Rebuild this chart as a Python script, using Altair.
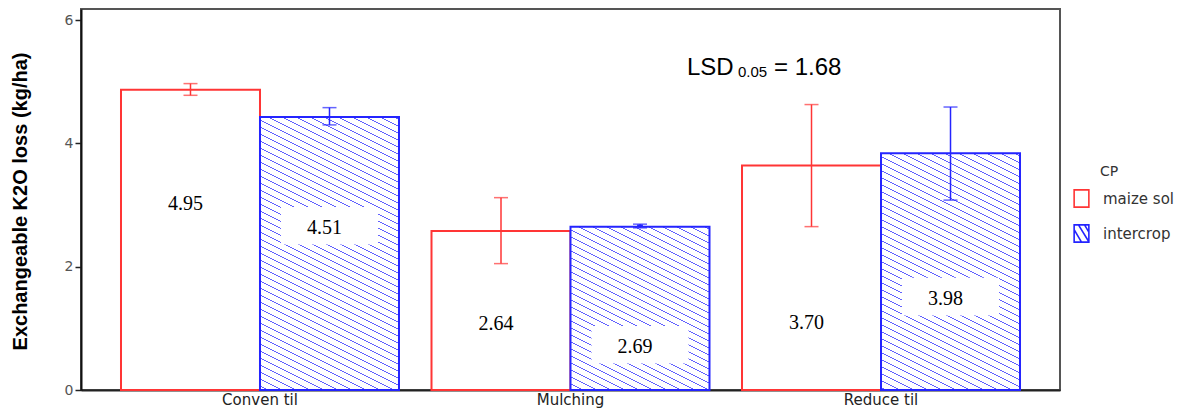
import altair as alt
import pandas as pd

# ---------------- data ----------------
treatments = ["Conven til", "Mulching", "Reduce til"]
cp_groups = ["maize sol", "intercrop"]

maize_mean = [4.87, 2.58, 3.64]
maize_hi = [4.97, 3.12, 4.63]
maize_lo = [4.78, 2.05, 2.65]

inter_mean = [4.43, 2.65, 3.84]
inter_hi = [4.58, 2.69, 4.59]
inter_lo = [4.30, 2.63, 3.08]

maize_label = ["4.95", "2.64", "3.70"]
inter_label = ["4.51", "2.69", "3.98"]
maize_label_y = [3.02, 1.07, 1.09]
inter_label_y = [2.63, 0.70, 1.48]

y_ticks = [0, 2, 4, 6]
y_title = "Exchangeable K2O loss (kg/ha)"
legend_title = "CP"
lsd_parts = ["LSD", "0.05", "= 1.68"]

rows = []
for i, t in enumerate(treatments):
    rows.append(dict(Treatment=t, CP=cp_groups[0], mean=maize_mean[i], hi=maize_hi[i],
                     lo=maize_lo[i], label=maize_label[i], ly=maize_label_y[i]))
    rows.append(dict(Treatment=t, CP=cp_groups[1], mean=inter_mean[i], hi=inter_hi[i],
                     lo=inter_lo[i], label=inter_label[i], ly=inter_label_y[i]))
df = pd.DataFrame(rows)

# ---------------- styling ----------------
W, H = 979, 381
YMAX = 6.18
RED = "#ff3535"
BLUE = "#2424ff"
HATCH = "#6262ff"
BAND_W = 139.0
GROUP_COLORS = [RED, BLUE]

yscale = alt.Scale(domain=[0, YMAX], nice=False, zero=True)
yaxis = alt.Axis(values=y_ticks, title=y_title, grid=False,
                 labelFont="DejaVu Sans", labelFontSize=14, labelColor="#555",
                 labelPadding=2, tickSize=6, tickWidth=1.5, tickColor="#222",
                 domainColor="#111", domainWidth=2,
                 titleFont="Liberation Sans", titleFontSize=20, titleFontWeight="bold",
                 titleColor="#000", titleAngle=270, titleX=-61, titleY=192,
                 titleAlign="center", titleBaseline="middle")


def ych(field):
    return alt.Y(field, type="quantitative", stack=None, scale=yscale, axis=yaxis)


xch = alt.X("Treatment:N", sort=treatments,
            scale=alt.Scale(paddingInner=0.1047, paddingOuter=0.1288),
            axis=alt.Axis(title=None, labelAngle=0, ticks=False, labelFont="DejaVu Sans",
                          labelFontSize=15, labelColor="#222", labelPadding=2,
                          domainColor="#222", domainWidth=2))
xoch = alt.XOffset("CP:N", sort=cp_groups, scale=alt.Scale(paddingInner=0, paddingOuter=0))

cp_scale = alt.Scale(domain=cp_groups, range=GROUP_COLORS)

# legend symbols: plain outline box and hatched outline box
SYM_PLAIN = "M-0.85,-1H0.85V1H-0.85Z"
SYM_HATCH = ("M-0.85,-1H0.85V1H-0.85Z"
             "M-0.85,-0.45L0.0,1"
             "M-0.35,-1L0.85,0.95"
             "M0.35,-1L0.85,-0.15")


def hatch_fill(value, m=0.5, period=7.0, th=1.3):
    hp = value / YMAX * H
    L = hp + m * BAND_W
    A = -m * BAND_W / L
    B = hp / L
    den = A * A + B * B
    gx, gy = A / den, B / den
    stops = [alt.GradientStop(offset=0, color="white")]
    k = 0
    while True:
        s = (k * period + 2.0) / L
        e = (k * period + 2.0 + th) / L
        if s >= 1:
            break
        e = min(e, 1.0)
        stops += [alt.GradientStop(offset=s, color="white"),
                  alt.GradientStop(offset=s, color=HATCH),
                  alt.GradientStop(offset=e, color=HATCH),
                  alt.GradientStop(offset=e, color="white")]
        k += 1
    stops.append(alt.GradientStop(offset=1, color="white"))
    return alt.Gradient(gradient="linear", stops=stops, x1=1, y1=0, x2=1 + gx, y2=gy)


base = alt.Chart(df)

# legend carrier: small points drawn first, hidden beneath the bars
leg_common = dict(title=None, orient="none", legendX=991, legendY=180,
                  symbolSize=300, symbolStrokeWidth=1.6, symbolFillColor="white",
                  symbolOpacity=1,
                  labelFont="DejaVu Sans", labelFontSize=15, labelColor="#333",
                  labelOffset=12, rowPadding=10, padding=0)
legend_layer = base.mark_point(filled=False, fill="white", size=20, opacity=1).encode(
    x=xch, xOffset=xoch, y=ych("lo"),
    shape=alt.Shape("CP:N", scale=alt.Scale(domain=cp_groups, range=[SYM_PLAIN, SYM_HATCH]),
                    legend=alt.Legend(**leg_common)),
    stroke=alt.Stroke("CP:N", scale=cp_scale, legend=alt.Legend(**leg_common)),
)

maize_bars = base.transform_filter(alt.datum.CP == cp_groups[0]).mark_bar(
    fill="white", stroke=RED, strokeWidth=2
).encode(x=xch, xOffset=xoch, y=ych("mean"))

inter_layers = []
for i, t in enumerate(treatments):
    inter_layers.append(
        base.transform_filter((alt.datum.CP == cp_groups[1]) & (alt.datum.Treatment == t))
        .mark_bar(fill=hatch_fill(inter_mean[i]), stroke=BLUE, strokeWidth=2)
        .encode(x=xch, xOffset=xoch, y=ych("mean"))
    )

boxes = base.transform_filter(alt.datum.CP == cp_groups[1]).transform_calculate(
    btop="datum.ly + 0.34", bbot="datum.ly - 0.27"
).mark_bar(fill="white", width=97, xOffset=6).encode(
    x=xch, xOffset=xoch, y=ych("btop"), y2="bbot:Q"
)

labels = base.mark_text(font="Liberation Serif", fontSize=20, color="#000", dx=-5,
                        baseline="middle").encode(
    x=xch, xOffset=xoch, y=ych("ly"), text="label:N"
)

err_layers = []
for g, col in zip(cp_groups, GROUP_COLORS):
    sub = base.transform_filter(alt.datum.CP == g)
    err_layers.append(sub.mark_rule(strokeWidth=1.5, color=col).encode(
        x=xch, xOffset=xoch, y=ych("lo"), y2="hi:Q"))
    err_layers.append(sub.mark_tick(thickness=1.5, size=14, color=col).encode(
        x=xch, xOffset=xoch, y=ych("hi")))
    err_layers.append(sub.mark_tick(thickness=1.5, size=14, color=col).encode(
        x=xch, xOffset=xoch, y=ych("lo")))

ann = alt.Chart(pd.DataFrame({"a": [0]}))
lsd1 = ann.mark_text(text=lsd_parts[0], font="Liberation Sans", fontSize=24, align="left",
                     baseline="alphabetic", color="#000").encode(x=alt.value(606), y=alt.value(66))
lsd2 = ann.mark_text(text=lsd_parts[1], font="Liberation Sans", fontSize=15, align="left",
                     baseline="alphabetic", color="#000").encode(x=alt.value(657), y=alt.value(67.5))
lsd3 = ann.mark_text(text=lsd_parts[2], font="Liberation Sans", fontSize=24, align="left",
                     baseline="alphabetic", color="#000").encode(x=alt.value(693), y=alt.value(66))
cp_title = ann.mark_text(text=legend_title, font="DejaVu Sans", fontSize=14, align="left",
                         baseline="middle", color="#333").encode(x=alt.value(1019), y=alt.value(163))

chart = alt.layer(
    legend_layer, maize_bars, *inter_layers, boxes, labels, *err_layers,
    lsd1, lsd2, lsd3, cp_title
).properties(
    width=W, height=H,
    autosize=alt.AutoSizeParams(type="none"),
    padding={"left": 73, "top": 1, "right": 124, "bottom": 22},
).configure_view(stroke="#555", strokeWidth=2)

chart.save("out.html", embed_options={"renderer": "svg", "actions": False})
